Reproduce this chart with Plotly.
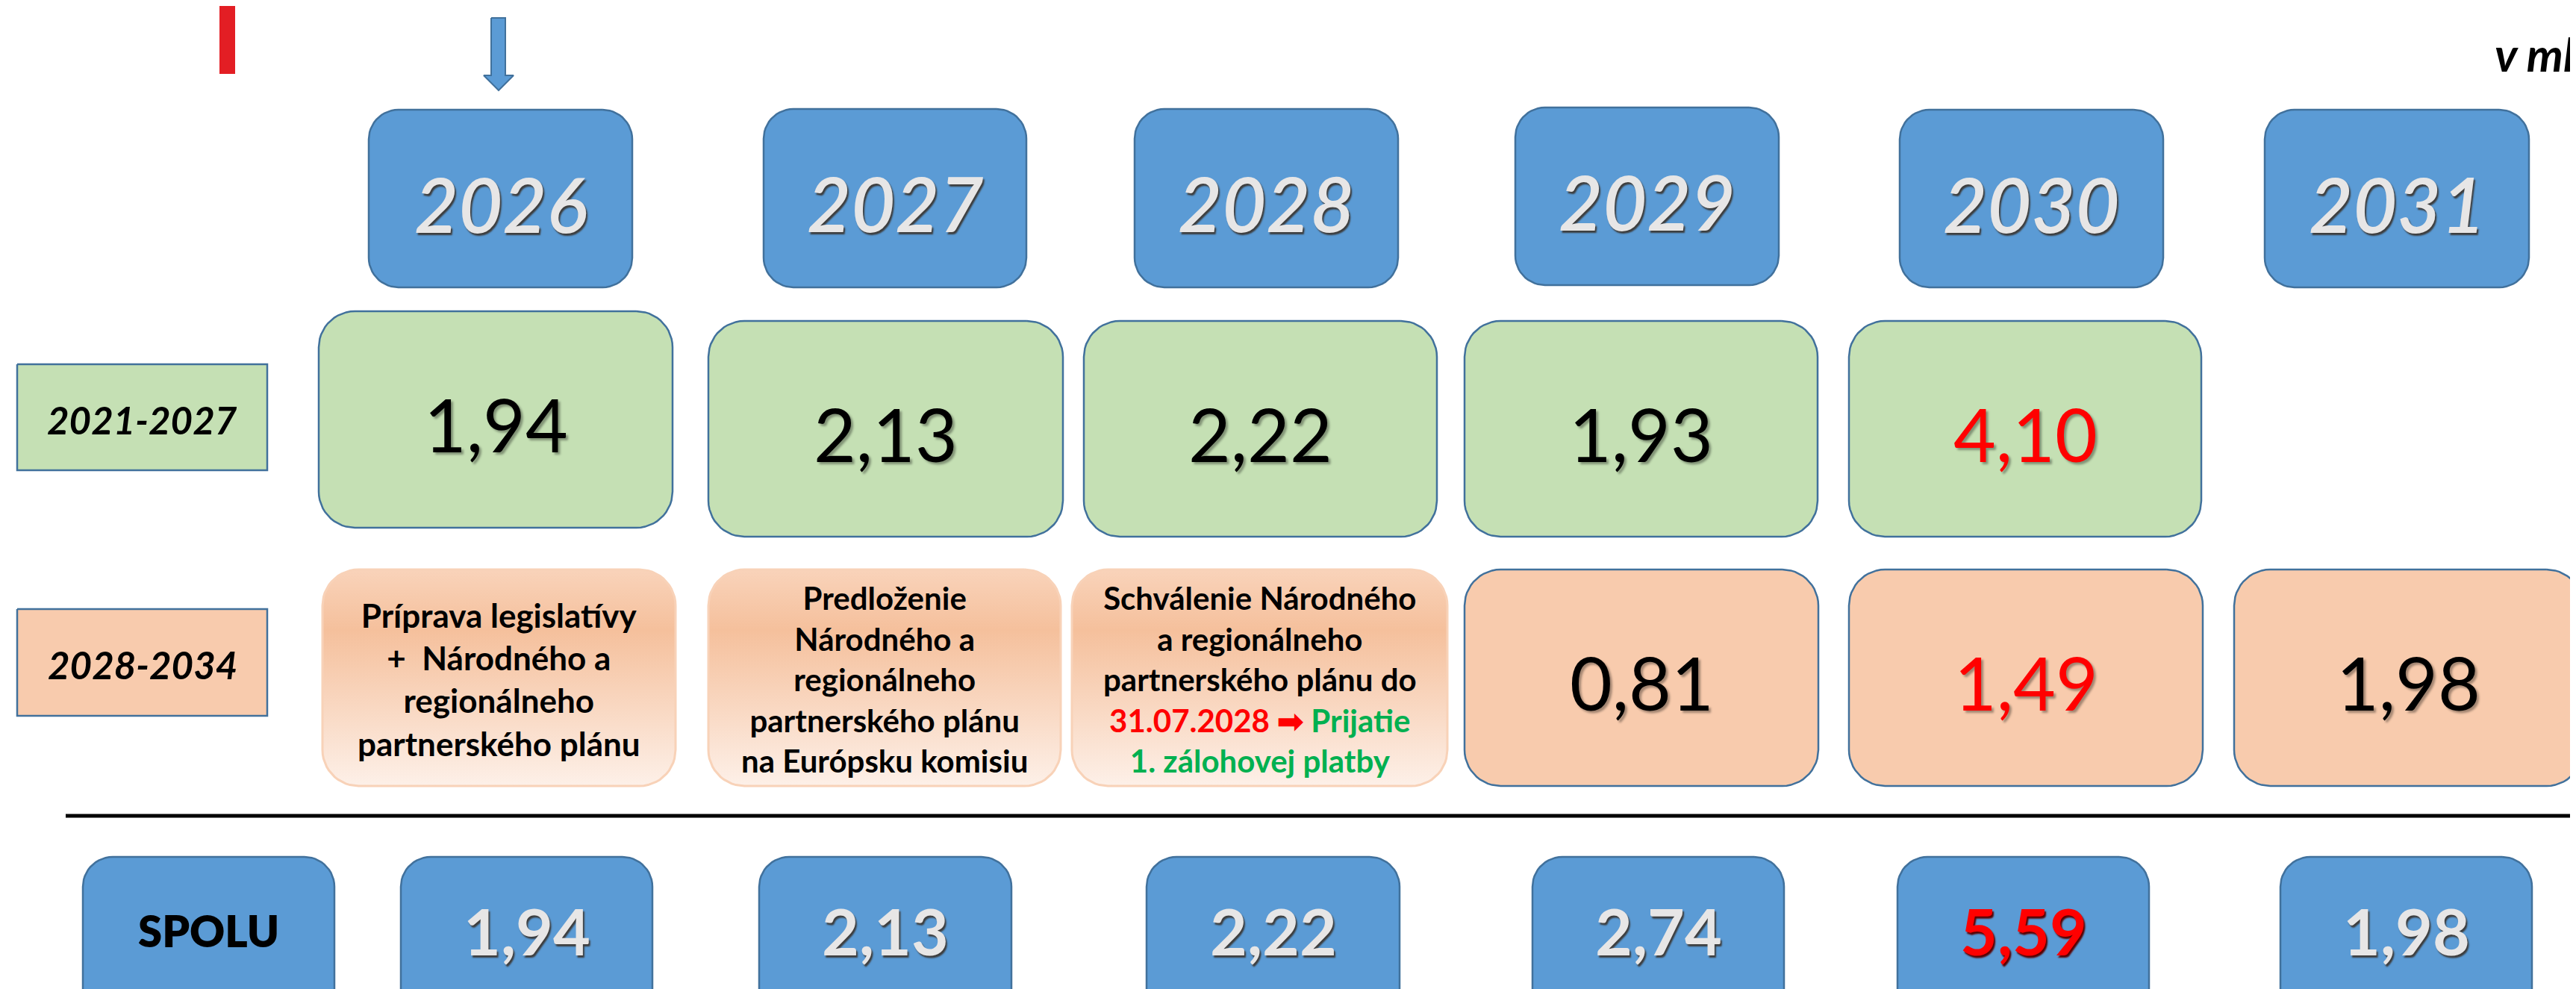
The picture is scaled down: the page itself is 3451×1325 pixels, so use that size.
import numpy as np
import plotly.graph_objects as go

W, H = 3451, 1325

# ---------------- data ----------------
years = ["2026", "2027", "2028", "2029", "2030", "2031"]
period_labels = ["2021-2027", "2028-2034"]
values_2021_2027 = [1.94, 2.13, 2.22, 1.93, 4.10]          # years 2026..2030
milestones_2028_2034 = [
    "Príprava legislatívy<br>+  Národného a<br>regionálneho<br>partnerského plánu",
    "Predloženie<br>Národného a<br>regionálneho<br>partnerského plánu<br>na Európsku komisiu",
    "Schválenie Národného<br>a regionálneho<br>partnerského plánu do<br>"
    "<span style='color:#ff0000'>31.07.2028 ➡</span> <span style='color:#00b050'>Prijatie</span><br>"
    "<span style='color:#00b050'>1. zálohovej platby</span>",
]                                                           # years 2026..2028
values_2028_2034 = [0.81, 1.49, 1.98]                      # years 2029..2031
totals = [1.94, 2.13, 2.22, 2.74, 5.59, 1.98]              # years 2026..2031
highlight_year = "2030"
total_label = "SPOLU"
unit_label = "v mld. EUR"

# ---------------- layout constants (pixel geometry of the slide) ----------------
year_box_x = [(486, 839), (1015, 1367), (1512, 1865), (2022, 2375), (2537, 2890), (3026, 3380)]
year_box_y = [(139, 377), (138, 377), (138, 377), (136, 374), (139, 377), (139, 377)]
row1_box_x = [(419, 893), (941, 1416), (1444, 1917), (1954, 2427), (2469, 2941)]
row1_box_y = [(409, 699), (422, 711), (422, 711), (422, 711), (422, 711)]
row2_box_x = [(424, 897), (941, 1413), (1428, 1931), (1954, 2428), (2469, 2943), (2985, 3452)]
row2_box_y = (755, 1045)
tot_box_x = [(529, 866), (1009, 1347), (1528, 1867), (2045, 2382), (2534, 2871), (3047, 3384)]
tot_label_x = (103, 440)
tot_box_y = (1140, 1380)
label_box_x = (15, 350)
label_box_y = [(480, 622), (808, 951)]

BLUE = "#5b9bd5"
BLUE_LINE = "#41719c"
GREEN = "#c5e0b4"
PEACH = "#f8cbad"
RED = "#ff0000"
FONT = "Lato"


def fmt(v):
    return f"{v:.2f}".replace(".", ",")


def rrect(x0, x1, y0, y1, r, n=14):
    xs, ys = [], []
    corners = [
        (x1 - r, y0 + r, -np.pi / 2, 0),
        (x1 - r, y1 - r, 0, np.pi / 2),
        (x0 + r, y1 - r, np.pi / 2, np.pi),
        (x0 + r, y0 + r, np.pi, 1.5 * np.pi),
    ]
    for cx, cy, a0, a1 in corners:
        t = np.linspace(a0, a1, n)
        xs.extend(cx + r * np.cos(t))
        ys.extend(cy + r * np.sin(t))
    xs.append(xs[0])
    ys.append(ys[0])
    return xs, ys


fig = go.Figure()


def box(x0, x1, y0, y1, fill, line=BLUE_LINE, lw=2.5, rounded=True, gradient=None):
    r = 0.1667 * min(x1 - x0, y1 - y0) if rounded else 0
    if rounded:
        xs, ys = rrect(x0, x1, y0, y1, r)
    else:
        xs, ys = [x0, x1, x1, x0, x0], [y0, y0, y1, y1, y0]
    kw = {}
    if gradient is not None:
        kw["fillgradient"] = dict(type="vertical", colorscale=gradient)
    fig.add_trace(go.Scatter(x=xs, y=ys, mode="lines", fill="toself", fillcolor=fill,
                             line=dict(color=line, width=lw), hoverinfo="skip", **kw))


def label(x, y, text, size, color="black", weight="normal", style="normal", shadow="none",
          xanchor="center"):
    fig.add_annotation(x=x, y=y, xref="x", yref="y", text=text, showarrow=False,
                       xanchor=xanchor, yanchor="middle", align="center",
                       font=dict(family=FONT, size=size, color=color, weight=weight,
                                 style=style, shadow=shadow))


# --- year header boxes ---
for yr, (x0, x1), (y0, y1) in zip(years, year_box_x, year_box_y):
    box(x0, x1, y0, y1, BLUE)
    label((x0 + x1) / 2, (y0 + y1) / 2 + 6, yr, 102, color="#e7e6e6", weight=600, style="italic",
          shadow="2px 3px 2px #3d3d3d")

# --- period label boxes ---
for lab, (y0, y1), col in zip(period_labels, label_box_y, [GREEN, PEACH]):
    box(label_box_x[0], label_box_x[1], y0, y1, col, rounded=False)
    label((label_box_x[0] + label_box_x[1]) / 2, (y0 + y1) / 2 + 3, lab, 51,
          weight="bold", style="italic")

# --- 2021-2027 row ---
for i, v in enumerate(values_2021_2027):
    x0, x1 = row1_box_x[i]
    y0, y1 = row1_box_y[i]
    box(x0, x1, y0, y1, GREEN)
    col = RED if years[i] == highlight_year else "black"
    label((x0 + x1) / 2, (y0 + y1) / 2 + 6, fmt(v), 98, color=col,
          shadow="3px 3px 3px rgba(0,0,0,0.35)")

# --- 2028-2034 row: milestones ---
peach_grad = [[0, "#fdf0e8"], [0.72, "#f5c09c"], [1, "#f9d3ba"]]
for i, txt in enumerate(milestones_2028_2034):
    x0, x1 = row2_box_x[i]
    box(x0, x1, row2_box_y[0], row2_box_y[1], "#f9d3ba", line="#f8d2b8", lw=3, gradient=peach_grad)
    label((x0 + x1) / 2, (row2_box_y[0] + row2_box_y[1]) / 2 + 2, txt,
          44 if i == 0 else 42, weight="bold")

# --- 2028-2034 row: values ---
offset = len(milestones_2028_2034)
for j, v in enumerate(values_2028_2034):
    i = offset + j
    x0, x1 = row2_box_x[i]
    box(x0, x1, row2_box_y[0], row2_box_y[1], PEACH)
    col = RED if years[i] == highlight_year else "black"
    label((x0 + x1) / 2, (row2_box_y[0] + row2_box_y[1]) / 2 + 6, fmt(v), 98, color=col,
          shadow="3px 3px 3px rgba(0,0,0,0.35)")

# --- separator line ---
fig.add_shape(type="line", x0=80, x1=W, y0=1085, y1=1085, xref="x", yref="y",
              line=dict(color="black", width=5))

# --- totals row ---
box(tot_label_x[0], tot_label_x[1], tot_box_y[0], tot_box_y[1], BLUE)
label((tot_label_x[0] + tot_label_x[1]) / 2, 1238, total_label, 58, weight=800)
for i, v in enumerate(totals):
    x0, x1 = tot_box_x[i]
    box(x0, x1, tot_box_y[0], tot_box_y[1], BLUE)
    hl = years[i] == highlight_year
    label((x0 + x1) / 2, 1238, fmt(v), 86, color=RED if hl else "#e7e6e6", weight="bold",
          shadow="2px 3px 2px #5a0000" if hl else "2px 3px 2px #3d3d3d")

# --- decorations: red bar, arrow, unit ---
fig.add_shape(type="rect", x0=286, x1=307, y0=0, y1=91, xref="x", yref="y",
              fillcolor="#e31e24", line=dict(width=0))
ax = [650, 669, 669, 680, 660, 640, 650, 650]
ay = [16, 16, 93, 93, 113, 93, 93, 16]
fig.add_trace(go.Scatter(x=ax, y=ay, mode="lines", fill="toself", fillcolor=BLUE,
                         line=dict(color=BLUE_LINE, width=2), hoverinfo="skip"))
label(3332, 64, unit_label, 62, weight="bold", style="italic", xanchor="left")

fig.update_layout(
    width=W, height=H, margin=dict(l=0, r=0, t=0, b=0),
    paper_bgcolor="white", plot_bgcolor="white", showlegend=False,
    xaxis=dict(range=[0, W], visible=False, fixedrange=True),
    yaxis=dict(range=[H, 0], visible=False, fixedrange=True),
)
fig.write_html("out.html")
